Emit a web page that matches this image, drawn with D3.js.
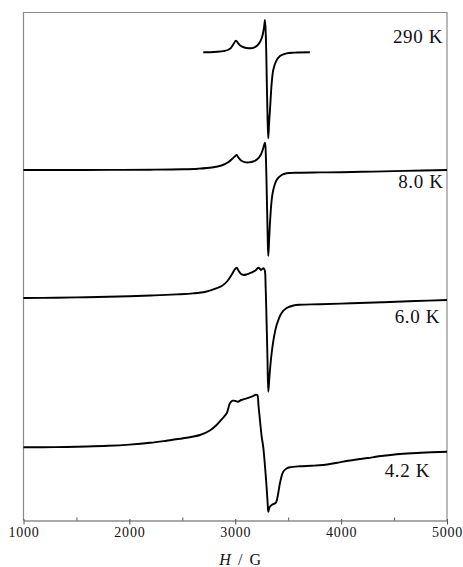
<!DOCTYPE html>
<html>
<head>
<meta charset="utf-8">
<script src="https://cdn.jsdelivr.net/npm/d3@7"></script>
<style>
  html, body { margin: 0; padding: 0; background: #fff; }
  svg { display: block; }
  text { font-family: "Liberation Serif", "Times New Roman", serif; fill: #111; }
</style>
</head>
<body>
<svg id="chart" width="463" height="567"></svg>
<script>
// Field axis ticks (G)
const majorTicks = [1000, 2000, 3000, 4000, 5000];
const minorTicks = [1500, 2500, 3500, 4500];

// Spectrum labels, top to bottom
const temperatures = ["290 K", "8.0 K", "6.0 K", "4.2 K"];

// 290 K derivative spectrum: field (G) and signal (arb. units)
const field290  = [2698, 2760, 2830, 2890, 2930, 2960, 2985, 3007, 3025, 3050, 3085, 3130, 3170, 3205, 3235, 3258, 3272, 3281, 3290, 3298, 3305, 3312, 3320, 3328, 3344, 3359, 3384, 3422, 3485, 3560, 3705];
const signal290 = [0, 0.1, 0.5, 1.2, 2.3, 4.5, 8.5, 11.6, 9.5, 6.5, 4.8, 4.0, 4.5, 6.5, 10.5, 17, 25, 32.3, 12, -30, -65, -86, -70, -57.7, -31, -17.7, -9.4, -3.7, -1, -0.3, 0];

// 8.0 K
const field8  = [1000, 1400, 1800, 2200, 2500, 2650, 2780, 2870, 2930, 2970, 3000, 3013, 3030, 3055, 3090, 3130, 3170, 3210, 3240, 3262, 3281, 3290, 3298, 3306, 3312, 3320, 3328, 3344, 3359, 3391, 3438, 3485, 3600, 3800, 4000, 4300, 4600, 5000];
const signal8 = [0, 0, 0.1, 0.3, 0.7, 1.3, 2.5, 4.5, 7.5, 11, 14, 15, 12.5, 9.5, 7.8, 7.6, 8.5, 11, 15, 21, 27.3, 10, -25, -65, -86, -70, -53, -30, -20, -10, -5, -3.3, -2.7, -2.4, -2.2, -1.6, -0.9, 0];

// 6.0 K
const field6  = [1000, 1300, 1600, 1900, 2200, 2450, 2600, 2720, 2820, 2880, 2930, 2970, 2995, 3013, 3030, 3055, 3080, 3110, 3150, 3190, 3217, 3230, 3242, 3255, 3266, 3278, 3287, 3296, 3304, 3312, 3320, 3328, 3344, 3366, 3391, 3438, 3485, 3550, 3611, 3800, 4100, 4400, 4700, 5000];
const signal6 = [-1, -0.8, -0.2, 0.5, 1.5, 2.6, 3.6, 5.3, 8.7, 11.5, 16.5, 23, 27.5, 29.3, 26.5, 23, 22, 22.7, 24.3, 26.5, 29.3, 28.5, 27, 28, 28.7, 27, 10, -25, -60, -94.7, -84, -73, -56, -40, -28, -16, -11, -8.5, -7.7, -7.2, -6.3, -5.2, -4, -3];

// 4.2 K
const field4  = [1000, 1300, 1600, 1800, 2000, 2195, 2350, 2509, 2667, 2760, 2824, 2872, 2919, 2950, 2975, 3003, 3025, 3057, 3108, 3155, 3195, 3208, 3220, 3236, 3250, 3264, 3280, 3296, 3306, 3312, 3325, 3344, 3365, 3384, 3406, 3422, 3453, 3485, 3517, 3611, 3720, 3831, 3950, 4083, 4250, 4400, 4556, 4750, 5000];
const signal4 = [-0.3, -0.1, 0.5, 1.2, 2.4, 4.2, 6.3, 8.7, 12, 16.5, 22, 27.7, 33.7, 43.7, 46.3, 46, 45.3, 47, 48.7, 50.3, 52.3, 52, 41, 24, 10, 0.3, -18, -40, -56, -64.7, -60, -58, -56.8, -55.7, -46.3, -36.3, -24.7, -21.5, -20.3, -19.3, -18.8, -18, -16, -13.5, -11, -8.8, -7, -5.8, -4.7];

const spectra = [
  { label: temperatures[0], field: field290, signal: signal290 },
  { label: temperatures[1], field: field8,   signal: signal8 },
  { label: temperatures[2], field: field6,   signal: signal6 },
  { label: temperatures[3], field: field4,   signal: signal4 }
];

// ---- layout ----
const svg = d3.select("#chart");
const plot = { left: 23.5, right: 447, top: 12.5, bottom: 520.5 };

const x = d3.scaleLinear().domain([1000, 5000]).range([plot.left, plot.right]);
const y = d3.scaleLinear().domain([0, 508]).range([plot.bottom, plot.top]);

// vertical stacking of the traces (in signal units) and label anchors
const stackOffsets = [468.2, 350.5, 223.5, 73.5];
const labelPos = [
  { x: 443, y: 43 },
  { x: 443.5, y: 188 },
  { x: 440, y: 323 },
  { x: 430, y: 477 }
];

// frame
svg.append("path")
  .attr("d", `M${plot.left},${plot.bottom}V${plot.top}H${plot.right}V${plot.bottom}`)
  .attr("fill", "none")
  .attr("stroke", "#8a8a8a")
  .attr("stroke-width", 1.2);

// bottom axis: major ticks outward, minor ticks inward
const axisMajor = d3.axisBottom(x)
  .tickValues(majorTicks)
  .tickFormat(d3.format("d"))
  .tickSizeInner(4)
  .tickSizeOuter(0)
  .tickPadding(3);

const gAxis = svg.append("g")
  .attr("transform", `translate(0,${plot.bottom})`)
  .call(axisMajor);
gAxis.select(".domain").attr("stroke", "#555").attr("stroke-width", 1.2);
gAxis.selectAll(".tick line").attr("stroke", "#555").attr("y1", -1.5);
gAxis.selectAll(".tick text")
  .attr("font-size", 14)
  .attr("letter-spacing", 0.8)
  .attr("fill", "#111");

const gMinor = svg.append("g")
  .attr("transform", `translate(0,${plot.bottom})`)
  .call(d3.axisBottom(x).tickValues(minorTicks).tickSize(-3).tickFormat(""));
gMinor.select(".domain").remove();
gMinor.selectAll(".tick line").attr("stroke", "#555");

// axis title
const title = svg.append("text")
  .attr("x", 241)
  .attr("y", 565)
  .attr("text-anchor", "middle")
  .attr("font-size", 16)
  .attr("letter-spacing", 1.6);
title.append("tspan").attr("font-style", "italic").text("H");
title.append("tspan").text("\u00a0/\u00a0G");

// spectra
const line = d3.line().curve(d3.curveCatmullRom.alpha(0.5));

spectra.forEach((s, i) => {
  const pts = s.field.map((f, j) => [x(f), y(stackOffsets[i] + s.signal[j])]);
  svg.append("path")
    .attr("d", line(pts))
    .attr("fill", "none")
    .attr("stroke", "#000")
    .attr("stroke-width", 1.9)
    .attr("stroke-linejoin", "round");

  svg.append("text")
    .attr("x", labelPos[i].x)
    .attr("y", labelPos[i].y)
    .attr("text-anchor", "end")
    .attr("font-size", 19)
    .attr("letter-spacing", 0.6)
    .text(s.label);
});
</script>
</body>
</html>
